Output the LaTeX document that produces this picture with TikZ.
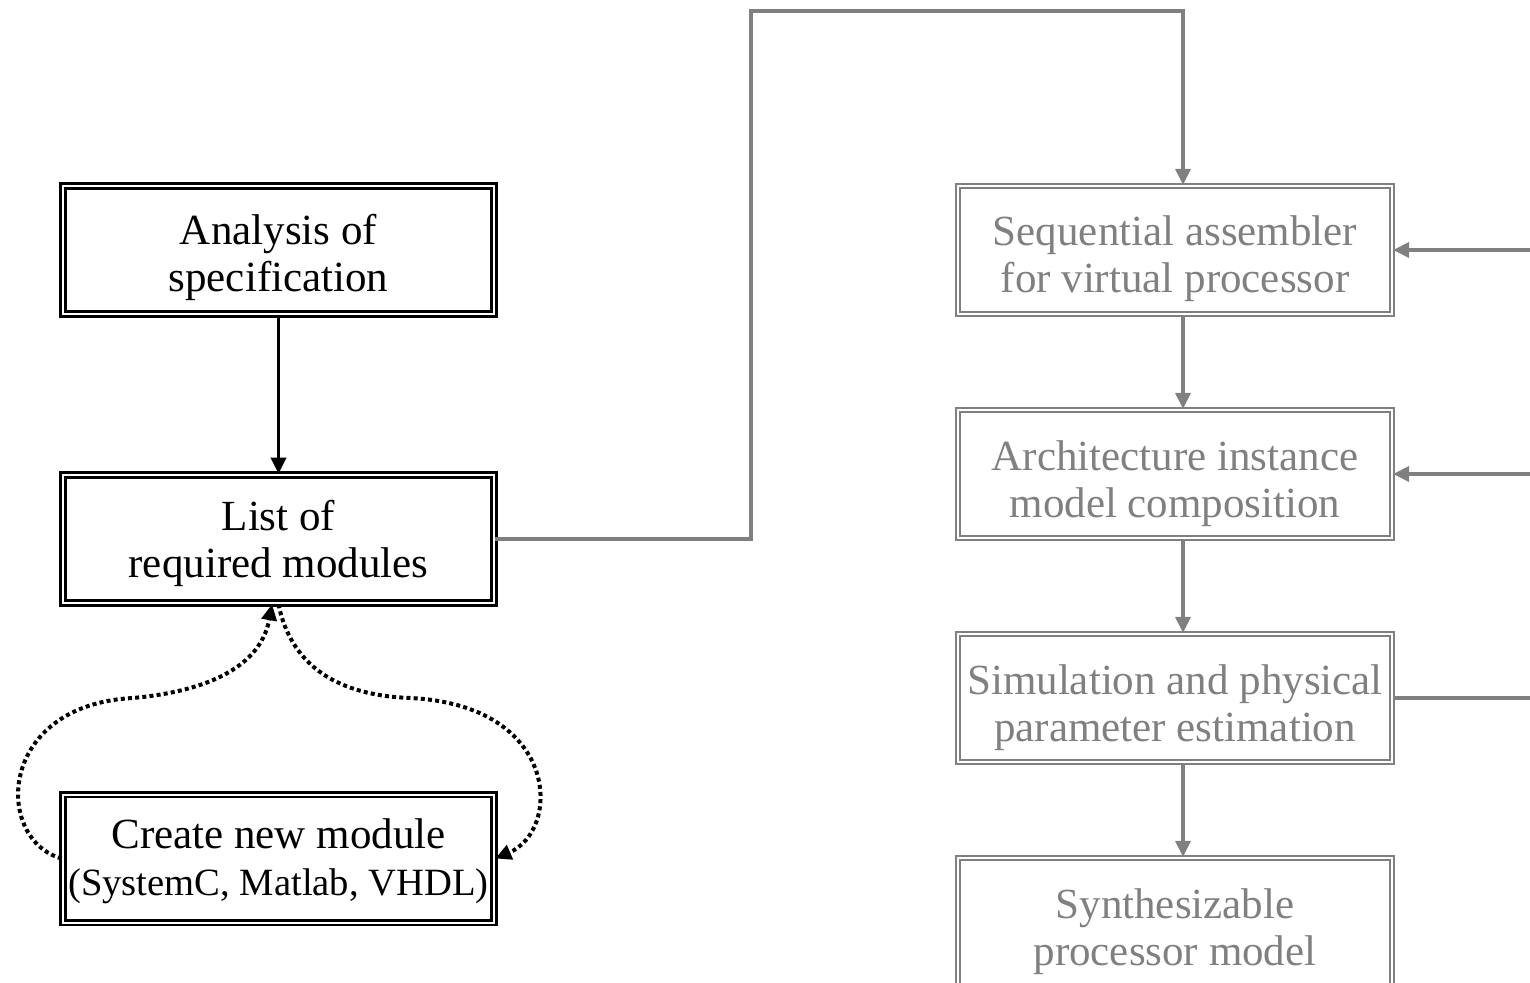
\documentclass[tikz,border=0pt]{standalone}
\usepackage{fontspec}
\setmainfont{Liberation Serif}
\usetikzlibrary{arrows.meta,calc}
\definecolor{gr}{RGB}{128,128,128}
\begin{document}
\begin{tikzpicture}[x=0.5pt,y=-0.5pt,
  bbox/.style={draw=black, double, line width=1.3pt, double distance=1pt,
    minimum width=215.5pt, minimum height=64pt, inner sep=0pt, align=center,
    text depth=0pt, font=\fontsize{21.5}{23.5}\selectfont},
  gbox/.style={draw=gr, text=gr, double, line width=1.1pt, double distance=1pt,
    minimum width=217pt, minimum height=64pt, inner sep=0pt, align=center,
    text depth=0pt, text height=43pt, font=\fontsize{21.5}{23.5}\selectfont},
  tip/.style={-{Triangle[length=8pt,width=7.5pt]}},
  arr/.style={line width=1.75pt, tip},
  garr/.style={draw=gr, line width=1.6pt, tip},
  gline/.style={draw=gr, line width=1.6pt},
  dotarr/.style={line width=2pt, dash pattern=on 2pt off 1.6pt, tip}
]
\path[use as bounding box] (0,0) rectangle (1530,983);

% left column
\node[bbox, text height=42pt] (ana) at (278.5,250) {Analysis of\\specification};
\node[bbox, text height=38pt] (list) at (278.5,539) {List of\\required modules};
\node[bbox, text height=36.5pt] (create) at (278.5,858.5) {Create new module\\{\fontsize{19.3}{22}\selectfont (SystemC, Matlab, VHDL)}};

% right column
\node[gbox] (seq) at (1175,250) {Sequential assembler\\for virtual processor};
\node[gbox] (arch) at (1175,474) {Architecture instance\\model composition};
\node[gbox] (sim) at (1175,698) {Simulation and physical\\parameter estimation};
\node[gbox] (syn) at (1175,922) {Synthesizable\\processor model};

\coordinate (colx) at (1183,0);
\coordinate (c1) at (751,11);
\coordinate (r1) at (1530,250);
\coordinate (r2) at (1530,474);
\coordinate (r3) at (1530,698);

% connectors
\draw[arr] (ana) -- (list);
\draw[garr] (list.east) -| (c1) -| (seq.north -| colx);
\draw[garr] (seq.south -| colx) -- (arch.north -| colx);
\draw[garr] (arch.south -| colx) -- (sim.north -| colx);
\draw[garr] (sim.south -| colx) -- (syn.north -| colx);
\draw[garr] (r1) -- (seq.east);
\draw[garr] (r2) -- (arch.east);
\draw[gline] (sim.east) -- (r3);

% dotted loops
\coordinate (la) at ($(list.south)+(-6.5,0)$);
\coordinate (lb) at ($(list.south)+(0,0)$);
\draw[dotarr] (create.west) .. controls (-6,840) and (-4,705) .. (133,698)
   .. controls (220,690) and (262,660) .. (la);
\draw[dotarr] (lb) .. controls (290,660) and (330,695) .. (410,698)
   .. controls (560,705) and (562,830) .. (create.east);
\end{tikzpicture}
\end{document}
